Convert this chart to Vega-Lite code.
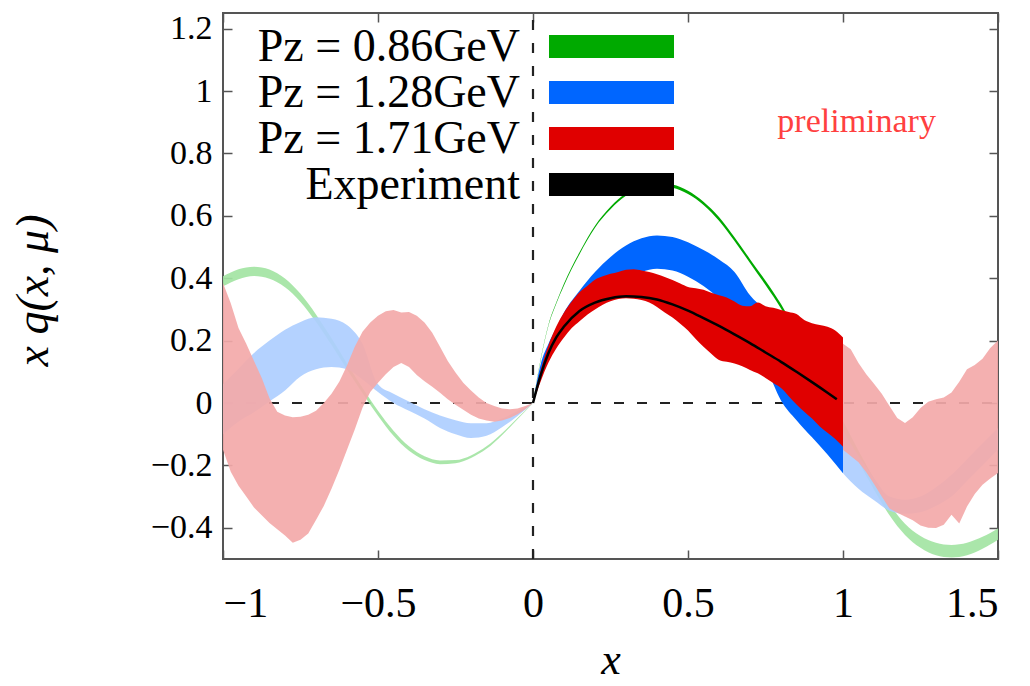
{
  "$schema": "https://vega.github.io/schema/vega-lite/v6.json",
  "width": 775,
  "height": 546,
  "autosize": {"type": "none"},
  "padding": {"left": 223, "top": 13, "right": 32, "bottom": 127},
  "background": "white",
  "config": {
    "font": "Liberation Serif",
    "view": {"stroke": "#555555", "strokeWidth": 2},
    "axis": {"labelFont": "Liberation Serif", "titleFont": "Liberation Serif"},
    "text": {"font": "Liberation Serif"},
    "legend": {
      "orient": "none",
      "legendX": 365.5,
      "legendY": 10.5,
      "direction": "vertical",
      "title": null,
      "padding": 0,
      "symbolType": "M-5.435,-1L5.435,-1L5.435,1L-5.435,1Z",
      "symbolSize": 529,
      "symbolStrokeWidth": 0,
      "symbolOpacity": 1,
      "labelFont": "Liberation Serif",
      "labelFontSize": 46,
      "labelColor": "#000000",
      "labelAlign": "right",
      "labelOffset": -114.5,
      "labelLimit": 500,
      "rowPadding": -0.5
    }
  },
  "datasets": {
    "bands": [
      {"series":"Pz = 0.86GeV","region":"L","x":-1,"lo":0.374,"hi":0.406},
      {"series":"Pz = 0.86GeV","region":"L","x":-0.95,"lo":0.397,"hi":0.429},
      {"series":"Pz = 0.86GeV","region":"L","x":-0.9,"lo":0.407,"hi":0.437},
      {"series":"Pz = 0.86GeV","region":"L","x":-0.85,"lo":0.398,"hi":0.428},
      {"series":"Pz = 0.86GeV","region":"L","x":-0.8,"lo":0.371,"hi":0.399},
      {"series":"Pz = 0.86GeV","region":"L","x":-0.75,"lo":0.324,"hi":0.35},
      {"series":"Pz = 0.86GeV","region":"L","x":-0.7,"lo":0.26,"hi":0.284},
      {"series":"Pz = 0.86GeV","region":"L","x":-0.65,"lo":0.186,"hi":0.208},
      {"series":"Pz = 0.86GeV","region":"L","x":-0.6,"lo":0.107,"hi":0.127},
      {"series":"Pz = 0.86GeV","region":"L","x":-0.55,"lo":0.031,"hi":0.049},
      {"series":"Pz = 0.86GeV","region":"L","x":-0.5,"lo":-0.041,"hi":-0.025},
      {"series":"Pz = 0.86GeV","region":"L","x":-0.45,"lo":-0.105,"hi":-0.089},
      {"series":"Pz = 0.86GeV","region":"L","x":-0.4,"lo":-0.153,"hi":-0.139},
      {"series":"Pz = 0.86GeV","region":"L","x":-0.35,"lo":-0.183,"hi":-0.171},
      {"series":"Pz = 0.86GeV","region":"L","x":-0.3,"lo":-0.196,"hi":-0.184},
      {"series":"Pz = 0.86GeV","region":"L","x":-0.25,"lo":-0.193,"hi":-0.183},
      {"series":"Pz = 0.86GeV","region":"L","x":-0.2,"lo":-0.176,"hi":-0.168},
      {"series":"Pz = 0.86GeV","region":"L","x":-0.15,"lo":-0.147,"hi":-0.139},
      {"series":"Pz = 0.86GeV","region":"L","x":-0.1,"lo":-0.103,"hi":-0.097},
      {"series":"Pz = 0.86GeV","region":"L","x":-0.05,"lo":-0.052,"hi":-0.048},
      {"series":"Pz = 0.86GeV","region":"L","x":0,"lo":-0.001,"hi":0.001},
      {"series":"Pz = 0.86GeV","region":"M","x":0,"lo":-0.001,"hi":0.001},
      {"series":"Pz = 0.86GeV","region":"M","x":0.025,"lo":0.138,"hi":0.142},
      {"series":"Pz = 0.86GeV","region":"M","x":0.05,"lo":0.248,"hi":0.252},
      {"series":"Pz = 0.86GeV","region":"M","x":0.075,"lo":0.318,"hi":0.322},
      {"series":"Pz = 0.86GeV","region":"M","x":0.1,"lo":0.377,"hi":0.383},
      {"series":"Pz = 0.86GeV","region":"M","x":0.15,"lo":0.477,"hi":0.483},
      {"series":"Pz = 0.86GeV","region":"M","x":0.2,"lo":0.562,"hi":0.568},
      {"series":"Pz = 0.86GeV","region":"M","x":0.25,"lo":0.621,"hi":0.629},
      {"series":"Pz = 0.86GeV","region":"M","x":0.3,"lo":0.664,"hi":0.672},
      {"series":"Pz = 0.86GeV","region":"M","x":0.35,"lo":0.688,"hi":0.696},
      {"series":"Pz = 0.86GeV","region":"M","x":0.4,"lo":0.695,"hi":0.705},
      {"series":"Pz = 0.86GeV","region":"M","x":0.45,"lo":0.69,"hi":0.7},
      {"series":"Pz = 0.86GeV","region":"M","x":0.5,"lo":0.67,"hi":0.68},
      {"series":"Pz = 0.86GeV","region":"M","x":0.55,"lo":0.635,"hi":0.645},
      {"series":"Pz = 0.86GeV","region":"M","x":0.6,"lo":0.584,"hi":0.596},
      {"series":"Pz = 0.86GeV","region":"M","x":0.65,"lo":0.519,"hi":0.531},
      {"series":"Pz = 0.86GeV","region":"M","x":0.7,"lo":0.449,"hi":0.461},
      {"series":"Pz = 0.86GeV","region":"M","x":0.75,"lo":0.378,"hi":0.392},
      {"series":"Pz = 0.86GeV","region":"M","x":0.8,"lo":0.303,"hi":0.317},
      {"series":"Pz = 0.86GeV","region":"M","x":0.85,"lo":0.213,"hi":0.227},
      {"series":"Pz = 0.86GeV","region":"M","x":0.9,"lo":0.117,"hi":0.133},
      {"series":"Pz = 0.86GeV","region":"M","x":0.95,"lo":0.017,"hi":0.033},
      {"series":"Pz = 0.86GeV","region":"M","x":1,"lo":-0.083,"hi":-0.067},
      {"series":"Pz = 0.86GeV","region":"R","x":1,"lo":-0.093,"hi":-0.057},
      {"series":"Pz = 0.86GeV","region":"R","x":1.05,"lo":-0.188,"hi":-0.152},
      {"series":"Pz = 0.86GeV","region":"R","x":1.1,"lo":-0.278,"hi":-0.242},
      {"series":"Pz = 0.86GeV","region":"R","x":1.15,"lo":-0.36,"hi":-0.324},
      {"series":"Pz = 0.86GeV","region":"R","x":1.2,"lo":-0.423,"hi":-0.387},
      {"series":"Pz = 0.86GeV","region":"R","x":1.25,"lo":-0.464,"hi":-0.426},
      {"series":"Pz = 0.86GeV","region":"R","x":1.3,"lo":-0.488,"hi":-0.448},
      {"series":"Pz = 0.86GeV","region":"R","x":1.35,"lo":-0.495,"hi":-0.455},
      {"series":"Pz = 0.86GeV","region":"R","x":1.4,"lo":-0.488,"hi":-0.448},
      {"series":"Pz = 0.86GeV","region":"R","x":1.45,"lo":-0.467,"hi":-0.429},
      {"series":"Pz = 0.86GeV","region":"R","x":1.5,"lo":-0.438,"hi":-0.402},

      {"series":"Pz = 1.28GeV","region":"L","x":-1,"lo":-0.1,"hi":0.06},
      {"series":"Pz = 1.28GeV","region":"L","x":-0.95,"lo":-0.06,"hi":0.11},
      {"series":"Pz = 1.28GeV","region":"L","x":-0.9,"lo":-0.03,"hi":0.16},
      {"series":"Pz = 1.28GeV","region":"L","x":-0.85,"lo":0.005,"hi":0.2},
      {"series":"Pz = 1.28GeV","region":"L","x":-0.8,"lo":0.04,"hi":0.235},
      {"series":"Pz = 1.28GeV","region":"L","x":-0.75,"lo":0.085,"hi":0.26},
      {"series":"Pz = 1.28GeV","region":"L","x":-0.7,"lo":0.108,"hi":0.275},
      {"series":"Pz = 1.28GeV","region":"L","x":-0.65,"lo":0.115,"hi":0.27},
      {"series":"Pz = 1.28GeV","region":"L","x":-0.6,"lo":0.108,"hi":0.25},
      {"series":"Pz = 1.28GeV","region":"L","x":-0.55,"lo":0.075,"hi":0.19},
      {"series":"Pz = 1.28GeV","region":"L","x":-0.5,"lo":0.035,"hi":0.06},
      {"series":"Pz = 1.28GeV","region":"L","x":-0.45,"lo":0,"hi":0.03},
      {"series":"Pz = 1.28GeV","region":"L","x":-0.4,"lo":-0.025,"hi":0.005},
      {"series":"Pz = 1.28GeV","region":"L","x":-0.35,"lo":-0.05,"hi":-0.02},
      {"series":"Pz = 1.28GeV","region":"L","x":-0.3,"lo":-0.08,"hi":-0.04},
      {"series":"Pz = 1.28GeV","region":"L","x":-0.25,"lo":-0.1,"hi":-0.055},
      {"series":"Pz = 1.28GeV","region":"L","x":-0.2,"lo":-0.112,"hi":-0.065},
      {"series":"Pz = 1.28GeV","region":"L","x":-0.15,"lo":-0.105,"hi":-0.065},
      {"series":"Pz = 1.28GeV","region":"L","x":-0.1,"lo":-0.078,"hi":-0.05},
      {"series":"Pz = 1.28GeV","region":"L","x":-0.05,"lo":-0.042,"hi":-0.026},
      {"series":"Pz = 1.28GeV","region":"L","x":0,"lo":0,"hi":0},
      {"series":"Pz = 1.28GeV","region":"M","x":0,"lo":0,"hi":0},
      {"series":"Pz = 1.28GeV","region":"M","x":0.025,"lo":0.08,"hi":0.125},
      {"series":"Pz = 1.28GeV","region":"M","x":0.05,"lo":0.14,"hi":0.19},
      {"series":"Pz = 1.28GeV","region":"M","x":0.075,"lo":0.185,"hi":0.24},
      {"series":"Pz = 1.28GeV","region":"M","x":0.1,"lo":0.22,"hi":0.29},
      {"series":"Pz = 1.28GeV","region":"M","x":0.15,"lo":0.28,"hi":0.36},
      {"series":"Pz = 1.28GeV","region":"M","x":0.2,"lo":0.33,"hi":0.42},
      {"series":"Pz = 1.28GeV","region":"M","x":0.25,"lo":0.37,"hi":0.468},
      {"series":"Pz = 1.28GeV","region":"M","x":0.3,"lo":0.4,"hi":0.505},
      {"series":"Pz = 1.28GeV","region":"M","x":0.35,"lo":0.42,"hi":0.528},
      {"series":"Pz = 1.28GeV","region":"M","x":0.4,"lo":0.43,"hi":0.537},
      {"series":"Pz = 1.28GeV","region":"M","x":0.45,"lo":0.425,"hi":0.532},
      {"series":"Pz = 1.28GeV","region":"M","x":0.5,"lo":0.405,"hi":0.515},
      {"series":"Pz = 1.28GeV","region":"M","x":0.55,"lo":0.375,"hi":0.49},
      {"series":"Pz = 1.28GeV","region":"M","x":0.6,"lo":0.335,"hi":0.46},
      {"series":"Pz = 1.28GeV","region":"M","x":0.65,"lo":0.285,"hi":0.42},
      {"series":"Pz = 1.28GeV","region":"M","x":0.7,"lo":0.225,"hi":0.345},
      {"series":"Pz = 1.28GeV","region":"M","x":0.75,"lo":0.12,"hi":0.295},
      {"series":"Pz = 1.28GeV","region":"M","x":0.8,"lo":0.008,"hi":0.22},
      {"series":"Pz = 1.28GeV","region":"M","x":0.85,"lo":-0.055,"hi":0.15},
      {"series":"Pz = 1.28GeV","region":"M","x":0.9,"lo":-0.11,"hi":0.07},
      {"series":"Pz = 1.28GeV","region":"M","x":0.95,"lo":-0.165,"hi":-0.01},
      {"series":"Pz = 1.28GeV","region":"M","x":1,"lo":-0.225,"hi":-0.09},
      {"series":"Pz = 1.28GeV","region":"R","x":1,"lo":-0.225,"hi":-0.09},
      {"series":"Pz = 1.28GeV","region":"R","x":1.05,"lo":-0.275,"hi":-0.17},
      {"series":"Pz = 1.28GeV","region":"R","x":1.1,"lo":-0.312,"hi":-0.24},
      {"series":"Pz = 1.28GeV","region":"R","x":1.15,"lo":-0.345,"hi":-0.3},
      {"series":"Pz = 1.28GeV","region":"R","x":1.2,"lo":-0.355,"hi":-0.31},
      {"series":"Pz = 1.28GeV","region":"R","x":1.25,"lo":-0.35,"hi":-0.3},
      {"series":"Pz = 1.28GeV","region":"R","x":1.3,"lo":-0.33,"hi":-0.27},
      {"series":"Pz = 1.28GeV","region":"R","x":1.35,"lo":-0.3,"hi":-0.23},
      {"series":"Pz = 1.28GeV","region":"R","x":1.4,"lo":-0.25,"hi":-0.18},
      {"series":"Pz = 1.28GeV","region":"R","x":1.45,"lo":-0.2,"hi":-0.13},
      {"series":"Pz = 1.28GeV","region":"R","x":1.5,"lo":-0.15,"hi":-0.08},

      {"series":"Pz = 1.71GeV","region":"L","x":-1,"lo":-0.15,"hi":0.385},
      {"series":"Pz = 1.71GeV","region":"L","x":-0.975,"lo":-0.22,"hi":0.32},
      {"series":"Pz = 1.71GeV","region":"L","x":-0.95,"lo":-0.265,"hi":0.24},
      {"series":"Pz = 1.71GeV","region":"L","x":-0.925,"lo":-0.3,"hi":0.19},
      {"series":"Pz = 1.71GeV","region":"L","x":-0.9,"lo":-0.335,"hi":0.135},
      {"series":"Pz = 1.71GeV","region":"L","x":-0.875,"lo":-0.36,"hi":0.08},
      {"series":"Pz = 1.71GeV","region":"L","x":-0.85,"lo":-0.385,"hi":0.015},
      {"series":"Pz = 1.71GeV","region":"L","x":-0.825,"lo":-0.405,"hi":-0.028},
      {"series":"Pz = 1.71GeV","region":"L","x":-0.8,"lo":-0.425,"hi":-0.04},
      {"series":"Pz = 1.71GeV","region":"L","x":-0.775,"lo":-0.448,"hi":-0.046},
      {"series":"Pz = 1.71GeV","region":"L","x":-0.75,"lo":-0.438,"hi":-0.044},
      {"series":"Pz = 1.71GeV","region":"L","x":-0.725,"lo":-0.418,"hi":-0.038},
      {"series":"Pz = 1.71GeV","region":"L","x":-0.7,"lo":-0.375,"hi":-0.025},
      {"series":"Pz = 1.71GeV","region":"L","x":-0.675,"lo":-0.33,"hi":0},
      {"series":"Pz = 1.71GeV","region":"L","x":-0.65,"lo":-0.275,"hi":0.03},
      {"series":"Pz = 1.71GeV","region":"L","x":-0.625,"lo":-0.215,"hi":0.068},
      {"series":"Pz = 1.71GeV","region":"L","x":-0.6,"lo":-0.15,"hi":0.12},
      {"series":"Pz = 1.71GeV","region":"L","x":-0.575,"lo":-0.085,"hi":0.18},
      {"series":"Pz = 1.71GeV","region":"L","x":-0.55,"lo":-0.015,"hi":0.228},
      {"series":"Pz = 1.71GeV","region":"L","x":-0.525,"lo":0.035,"hi":0.258},
      {"series":"Pz = 1.71GeV","region":"L","x":-0.5,"lo":0.065,"hi":0.28},
      {"series":"Pz = 1.71GeV","region":"L","x":-0.475,"lo":0.092,"hi":0.294},
      {"series":"Pz = 1.71GeV","region":"L","x":-0.45,"lo":0.115,"hi":0.298},
      {"series":"Pz = 1.71GeV","region":"L","x":-0.425,"lo":0.128,"hi":0.29},
      {"series":"Pz = 1.71GeV","region":"L","x":-0.4,"lo":0.115,"hi":0.292},
      {"series":"Pz = 1.71GeV","region":"L","x":-0.375,"lo":0.09,"hi":0.28},
      {"series":"Pz = 1.71GeV","region":"L","x":-0.35,"lo":0.07,"hi":0.258},
      {"series":"Pz = 1.71GeV","region":"L","x":-0.325,"lo":0.052,"hi":0.225},
      {"series":"Pz = 1.71GeV","region":"L","x":-0.3,"lo":0.033,"hi":0.18},
      {"series":"Pz = 1.71GeV","region":"L","x":-0.275,"lo":0.012,"hi":0.135},
      {"series":"Pz = 1.71GeV","region":"L","x":-0.25,"lo":-0.006,"hi":0.098},
      {"series":"Pz = 1.71GeV","region":"L","x":-0.225,"lo":-0.022,"hi":0.065},
      {"series":"Pz = 1.71GeV","region":"L","x":-0.2,"lo":-0.038,"hi":0.04},
      {"series":"Pz = 1.71GeV","region":"L","x":-0.175,"lo":-0.05,"hi":0.018},
      {"series":"Pz = 1.71GeV","region":"L","x":-0.15,"lo":-0.056,"hi":0},
      {"series":"Pz = 1.71GeV","region":"L","x":-0.125,"lo":-0.06,"hi":-0.01},
      {"series":"Pz = 1.71GeV","region":"L","x":-0.1,"lo":-0.056,"hi":-0.018},
      {"series":"Pz = 1.71GeV","region":"L","x":-0.075,"lo":-0.048,"hi":-0.02},
      {"series":"Pz = 1.71GeV","region":"L","x":-0.05,"lo":-0.036,"hi":-0.018},
      {"series":"Pz = 1.71GeV","region":"L","x":-0.025,"lo":-0.02,"hi":-0.01},
      {"series":"Pz = 1.71GeV","region":"L","x":0,"lo":0,"hi":0},
      {"series":"Pz = 1.71GeV","region":"M","x":0,"lo":0,"hi":0},
      {"series":"Pz = 1.71GeV","region":"M","x":0.025,"lo":0.07,"hi":0.105},
      {"series":"Pz = 1.71GeV","region":"M","x":0.05,"lo":0.13,"hi":0.185},
      {"series":"Pz = 1.71GeV","region":"M","x":0.075,"lo":0.175,"hi":0.245},
      {"series":"Pz = 1.71GeV","region":"M","x":0.1,"lo":0.21,"hi":0.29},
      {"series":"Pz = 1.71GeV","region":"M","x":0.125,"lo":0.24,"hi":0.325},
      {"series":"Pz = 1.71GeV","region":"M","x":0.15,"lo":0.262,"hi":0.355},
      {"series":"Pz = 1.71GeV","region":"M","x":0.175,"lo":0.283,"hi":0.375},
      {"series":"Pz = 1.71GeV","region":"M","x":0.2,"lo":0.3,"hi":0.395},
      {"series":"Pz = 1.71GeV","region":"M","x":0.225,"lo":0.315,"hi":0.406},
      {"series":"Pz = 1.71GeV","region":"M","x":0.25,"lo":0.326,"hi":0.414},
      {"series":"Pz = 1.71GeV","region":"M","x":0.275,"lo":0.333,"hi":0.42},
      {"series":"Pz = 1.71GeV","region":"M","x":0.3,"lo":0.336,"hi":0.427},
      {"series":"Pz = 1.71GeV","region":"M","x":0.325,"lo":0.334,"hi":0.429},
      {"series":"Pz = 1.71GeV","region":"M","x":0.35,"lo":0.33,"hi":0.425},
      {"series":"Pz = 1.71GeV","region":"M","x":0.375,"lo":0.322,"hi":0.42},
      {"series":"Pz = 1.71GeV","region":"M","x":0.4,"lo":0.308,"hi":0.413},
      {"series":"Pz = 1.71GeV","region":"M","x":0.425,"lo":0.29,"hi":0.404},
      {"series":"Pz = 1.71GeV","region":"M","x":0.45,"lo":0.274,"hi":0.394},
      {"series":"Pz = 1.71GeV","region":"M","x":0.475,"lo":0.254,"hi":0.383},
      {"series":"Pz = 1.71GeV","region":"M","x":0.5,"lo":0.232,"hi":0.372},
      {"series":"Pz = 1.71GeV","region":"M","x":0.525,"lo":0.205,"hi":0.368},
      {"series":"Pz = 1.71GeV","region":"M","x":0.55,"lo":0.18,"hi":0.363},
      {"series":"Pz = 1.71GeV","region":"M","x":0.575,"lo":0.158,"hi":0.353},
      {"series":"Pz = 1.71GeV","region":"M","x":0.6,"lo":0.138,"hi":0.345},
      {"series":"Pz = 1.71GeV","region":"M","x":0.625,"lo":0.132,"hi":0.338},
      {"series":"Pz = 1.71GeV","region":"M","x":0.65,"lo":0.127,"hi":0.325},
      {"series":"Pz = 1.71GeV","region":"M","x":0.675,"lo":0.118,"hi":0.312},
      {"series":"Pz = 1.71GeV","region":"M","x":0.7,"lo":0.106,"hi":0.31},
      {"series":"Pz = 1.71GeV","region":"M","x":0.725,"lo":0.095,"hi":0.322},
      {"series":"Pz = 1.71GeV","region":"M","x":0.75,"lo":0.08,"hi":0.31},
      {"series":"Pz = 1.71GeV","region":"M","x":0.775,"lo":0.064,"hi":0.305},
      {"series":"Pz = 1.71GeV","region":"M","x":0.8,"lo":0.048,"hi":0.298},
      {"series":"Pz = 1.71GeV","region":"M","x":0.825,"lo":0.022,"hi":0.292},
      {"series":"Pz = 1.71GeV","region":"M","x":0.85,"lo":-0.005,"hi":0.285},
      {"series":"Pz = 1.71GeV","region":"M","x":0.875,"lo":-0.028,"hi":0.266},
      {"series":"Pz = 1.71GeV","region":"M","x":0.9,"lo":-0.05,"hi":0.256},
      {"series":"Pz = 1.71GeV","region":"M","x":0.925,"lo":-0.075,"hi":0.25},
      {"series":"Pz = 1.71GeV","region":"M","x":0.95,"lo":-0.095,"hi":0.244},
      {"series":"Pz = 1.71GeV","region":"M","x":0.975,"lo":-0.115,"hi":0.232},
      {"series":"Pz = 1.71GeV","region":"M","x":1,"lo":-0.14,"hi":0.21},
      {"series":"Pz = 1.71GeV","region":"R","x":1,"lo":-0.15,"hi":0.19},
      {"series":"Pz = 1.71GeV","region":"R","x":1.025,"lo":-0.17,"hi":0.172},
      {"series":"Pz = 1.71GeV","region":"R","x":1.05,"lo":-0.19,"hi":0.128},
      {"series":"Pz = 1.71GeV","region":"R","x":1.075,"lo":-0.222,"hi":0.092},
      {"series":"Pz = 1.71GeV","region":"R","x":1.1,"lo":-0.26,"hi":0.062},
      {"series":"Pz = 1.71GeV","region":"R","x":1.125,"lo":-0.3,"hi":0.03},
      {"series":"Pz = 1.71GeV","region":"R","x":1.15,"lo":-0.338,"hi":-0.01},
      {"series":"Pz = 1.71GeV","region":"R","x":1.175,"lo":-0.352,"hi":-0.048},
      {"series":"Pz = 1.71GeV","region":"R","x":1.2,"lo":-0.364,"hi":-0.064},
      {"series":"Pz = 1.71GeV","region":"R","x":1.225,"lo":-0.376,"hi":-0.046},
      {"series":"Pz = 1.71GeV","region":"R","x":1.25,"lo":-0.393,"hi":-0.016},
      {"series":"Pz = 1.71GeV","region":"R","x":1.275,"lo":-0.4,"hi":0.004},
      {"series":"Pz = 1.71GeV","region":"R","x":1.3,"lo":-0.401,"hi":0.012},
      {"series":"Pz = 1.71GeV","region":"R","x":1.325,"lo":-0.39,"hi":0.018},
      {"series":"Pz = 1.71GeV","region":"R","x":1.35,"lo":-0.358,"hi":0.034},
      {"series":"Pz = 1.71GeV","region":"R","x":1.375,"lo":-0.386,"hi":0.068},
      {"series":"Pz = 1.71GeV","region":"R","x":1.4,"lo":-0.332,"hi":0.108},
      {"series":"Pz = 1.71GeV","region":"R","x":1.425,"lo":-0.292,"hi":0.122},
      {"series":"Pz = 1.71GeV","region":"R","x":1.45,"lo":-0.262,"hi":0.142},
      {"series":"Pz = 1.71GeV","region":"R","x":1.475,"lo":-0.242,"hi":0.176},
      {"series":"Pz = 1.71GeV","region":"R","x":1.5,"lo":-0.224,"hi":0.2}
    ],
    "exp": [
      {"x":0,"y":0},{"x":0.025,"y":0.09},{"x":0.05,"y":0.16},{"x":0.075,"y":0.21},
      {"x":0.1,"y":0.245},{"x":0.15,"y":0.295},{"x":0.2,"y":0.322},{"x":0.25,"y":0.336},
      {"x":0.3,"y":0.342},{"x":0.35,"y":0.34},{"x":0.4,"y":0.332},{"x":0.45,"y":0.316},
      {"x":0.5,"y":0.296},{"x":0.55,"y":0.272},{"x":0.6,"y":0.247},{"x":0.65,"y":0.22},
      {"x":0.7,"y":0.192},{"x":0.75,"y":0.162},{"x":0.8,"y":0.132},{"x":0.85,"y":0.1},
      {"x":0.9,"y":0.067},{"x":0.95,"y":0.033},{"x":0.98,"y":0.012}
    ]
  },
  "resolve": {"axis": {"x": "independent", "y": "independent"}},
  "layer": [
    {
      "data": {"values": [{}]},
      "mark": {"type": "rule", "color": "#222222", "strokeWidth": 2.2, "strokeDash": [10, 13]},
      "encoding": {
        "x": {"datum": -1, "type": "quantitative", "scale": {"domain": [-1, 1.5], "nice": false, "zero": false}, "axis": null},
        "x2": {"datum": 1.5},
        "y": {"datum": 0, "type": "quantitative", "scale": {"domain": [-0.5, 1.25], "nice": false, "zero": false}, "axis": null}
      }
    },
    {
      "data": {"values": [{}]},
      "mark": {"type": "rule", "color": "#222222", "strokeWidth": 2.2, "strokeDash": [10, 13]},
      "encoding": {
        "x": {"datum": 0, "type": "quantitative", "scale": {"domain": [-1, 1.5], "nice": false, "zero": false}, "axis": null},
        "y": {"datum": -0.5, "type": "quantitative", "scale": {"domain": [-0.5, 1.25], "nice": false, "zero": false}, "axis": null},
        "y2": {"datum": 1.25}
      }
    },
    {
      "data": {"name": "bands"},
      "transform": [{"filter": "datum.series == 'Pz = 0.86GeV' && datum.region != 'M'"}],
      "mark": {"type": "area", "color": "#a3e4a3", "opacity": 0.92, "interpolate": "monotone", "clip": true},
      "encoding": {
        "x": {"field": "x", "type": "quantitative", "scale": {"domain": [-1, 1.5], "nice": false, "zero": false},
          "axis": {"orient": "bottom", "values": [-1, -0.5, 0, 0.5, 1, 1.5], "format": ".1~f", "domain": false, "grid": false,
            "tickSize": -9, "tickWidth": 1.5, "tickColor": "#555555", "labelPadding": 33,
            "labelFont": "Liberation Serif", "labelFontSize": 42, "labelColor": "#000000",
            "title": "x", "titleFont": "Liberation Serif", "titleFontStyle": "italic", "titleFontWeight": "normal",
            "titleFontSize": 44, "titleColor": "#000000", "titleBaseline": "alphabetic", "titleY": 114}},
        "y": {"field": "lo", "type": "quantitative", "scale": {"domain": [-0.5, 1.25], "nice": false, "zero": false},
          "axis": {"orient": "left", "values": [-0.4, -0.2, 0, 0.2, 0.4, 0.6, 0.8, 1, 1.2], "format": ".1~f", "domain": false, "grid": false,
            "tickSize": -9, "tickWidth": 1.5, "tickColor": "#555555", "labelPadding": 20,
            "labelFont": "Liberation Serif", "labelFontSize": 34, "labelColor": "#000000",
            "title": "x q(x, μ)", "titleFont": "Liberation Serif", "titleFontStyle": "italic", "titleFontWeight": "normal",
            "titleFontSize": 46, "titleColor": "#000000", "titleBaseline": "alphabetic", "titleAlign": "center",
            "titleX": -176, "titleY": 277}},
        "y2": {"field": "hi"},
        "detail": {"field": "region"}
      }
    },
    {
      "data": {"name": "bands"},
      "transform": [{"filter": "datum.series == 'Pz = 1.28GeV' && datum.region != 'M'"}],
      "mark": {"type": "area", "color": "#aeceff", "opacity": 0.92, "interpolate": "monotone", "clip": true},
      "encoding": {
        "x": {"field": "x", "type": "quantitative", "scale": {"domain": [-1, 1.5], "nice": false, "zero": false}, "axis": null},
        "y": {"field": "lo", "type": "quantitative", "scale": {"domain": [-0.5, 1.25], "nice": false, "zero": false}, "axis": null},
        "y2": {"field": "hi"},
        "detail": {"field": "region"}
      }
    },
    {
      "data": {"name": "bands"},
      "transform": [{"filter": "datum.series == 'Pz = 1.71GeV' && datum.region != 'M'"}],
      "mark": {"type": "area", "color": "#f3a9a9", "opacity": 0.92, "interpolate": "linear", "clip": true},
      "encoding": {
        "x": {"field": "x", "type": "quantitative", "scale": {"domain": [-1, 1.5], "nice": false, "zero": false}, "axis": null},
        "y": {"field": "lo", "type": "quantitative", "scale": {"domain": [-0.5, 1.25], "nice": false, "zero": false}, "axis": null},
        "y2": {"field": "hi"},
        "detail": {"field": "region"}
      }
    },
    {
      "data": {"name": "bands"},
      "transform": [{"filter": "datum.region == 'M'"}],
      "mark": {"type": "area", "interpolate": "monotone", "clip": true},
      "encoding": {
        "x": {"field": "x", "type": "quantitative", "scale": {"domain": [-1, 1.5], "nice": false, "zero": false}, "axis": null},
        "y": {"field": "lo", "type": "quantitative", "scale": {"domain": [-0.5, 1.25], "nice": false, "zero": false}, "axis": null},
        "y2": {"field": "hi"},
        "color": {"field": "series", "type": "nominal",
          "scale": {"domain": ["Pz = 0.86GeV", "Pz = 1.28GeV", "Pz = 1.71GeV", "Experiment"], "range": ["#00aa00", "#0066ff", "#e00000", "#000000"]},
          "legend": {}},
        "order": {"field": "series"}
      }
    },
    {
      "data": {"name": "exp"},
      "mark": {"type": "line", "color": "#000000", "strokeWidth": 2.5, "interpolate": "monotone", "clip": true},
      "encoding": {
        "x": {"field": "x", "type": "quantitative", "scale": {"domain": [-1, 1.5], "nice": false, "zero": false}, "axis": null},
        "y": {"field": "y", "type": "quantitative", "scale": {"domain": [-0.5, 1.25], "nice": false, "zero": false}, "axis": null}
      }
    },
    {
      "data": {"values": [{}]},
      "mark": {"type": "text", "text": "preliminary", "font": "Liberation Serif", "fontSize": 34, "color": "#ff4040", "align": "center", "baseline": "alphabetic"},
      "encoding": {
        "x": {"datum": 1.044, "type": "quantitative", "scale": {"domain": [-1, 1.5], "nice": false, "zero": false},
          "axis": {"orient": "top", "values": [-1, -0.5, 0, 0.5, 1, 1.5], "labels": false, "domain": false, "grid": false,
            "tickSize": -9, "tickWidth": 1.5, "tickColor": "#555555", "title": null}},
        "y": {"datum": 0.867, "type": "quantitative", "scale": {"domain": [-0.5, 1.25], "nice": false, "zero": false},
          "axis": {"orient": "right", "values": [-0.4, -0.2, 0, 0.2, 0.4, 0.6, 0.8, 1, 1.2], "labels": false, "domain": false, "grid": false,
            "tickSize": -9, "tickWidth": 1.5, "tickColor": "#555555", "title": null}}
      }
    }
  ]
}
